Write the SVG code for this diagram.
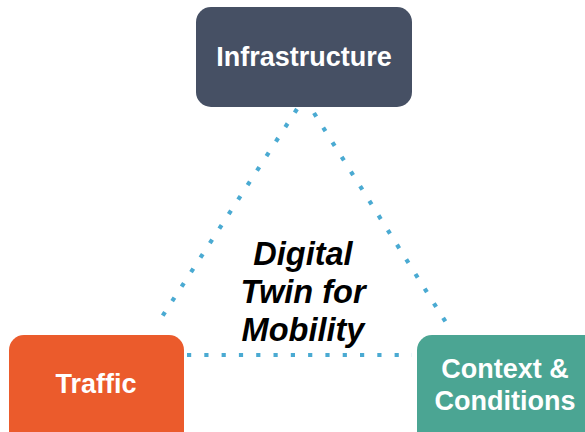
<svg xmlns="http://www.w3.org/2000/svg" width="585" height="432" viewBox="0 0 585 432">
  <style>
    .link { fill: none; stroke: #4aaad2; stroke-width: 4.2; stroke-dasharray: 4.2 13.1; }
    .label { font-family: "Liberation Sans", Arial, sans-serif; font-weight: bold; fill: #ffffff; text-anchor: middle; font-size: 27px; }
    .center { font-family: "Liberation Sans", Arial, sans-serif; font-weight: bold; font-style: italic; fill: #000000; text-anchor: middle; font-size: 32.5px; }
  </style>
  <rect width="585" height="432" fill="#ffffff"/>

  <!-- dotted connectors forming the triangle -->
  <g id="connectors">
    <line class="link" x1="297" y1="109" x2="156" y2="326"/>
    <line class="link" x1="314" y1="113" x2="452" y2="332"/>
    <line class="link" x1="187" y1="355" x2="412" y2="355"/>
  </g>

  <g id="infrastructure">
    <rect x="196" y="7" width="216" height="100" rx="15" fill="#465064"/>
    <text class="label" x="304" y="66">Infrastructure</text>
  </g>

  <g id="traffic">
    <rect x="9" y="335" width="175" height="115" rx="15" fill="#eb5b2c"/>
    <text class="label" x="96" y="393">Traffic</text>
  </g>

  <g id="context">
    <rect x="417" y="335" width="190" height="115" rx="15" fill="#4ba593"/>
    <text class="label" x="505" y="378">Context &amp;</text>
    <text class="label" x="505" y="410">Conditions</text>
  </g>

  <g id="digital-twin">
    <text class="center" x="303" y="265">Digital</text>
    <text class="center" x="303" y="303">Twin for</text>
    <text class="center" x="303" y="341">Mobility</text>
  </g>
</svg>
